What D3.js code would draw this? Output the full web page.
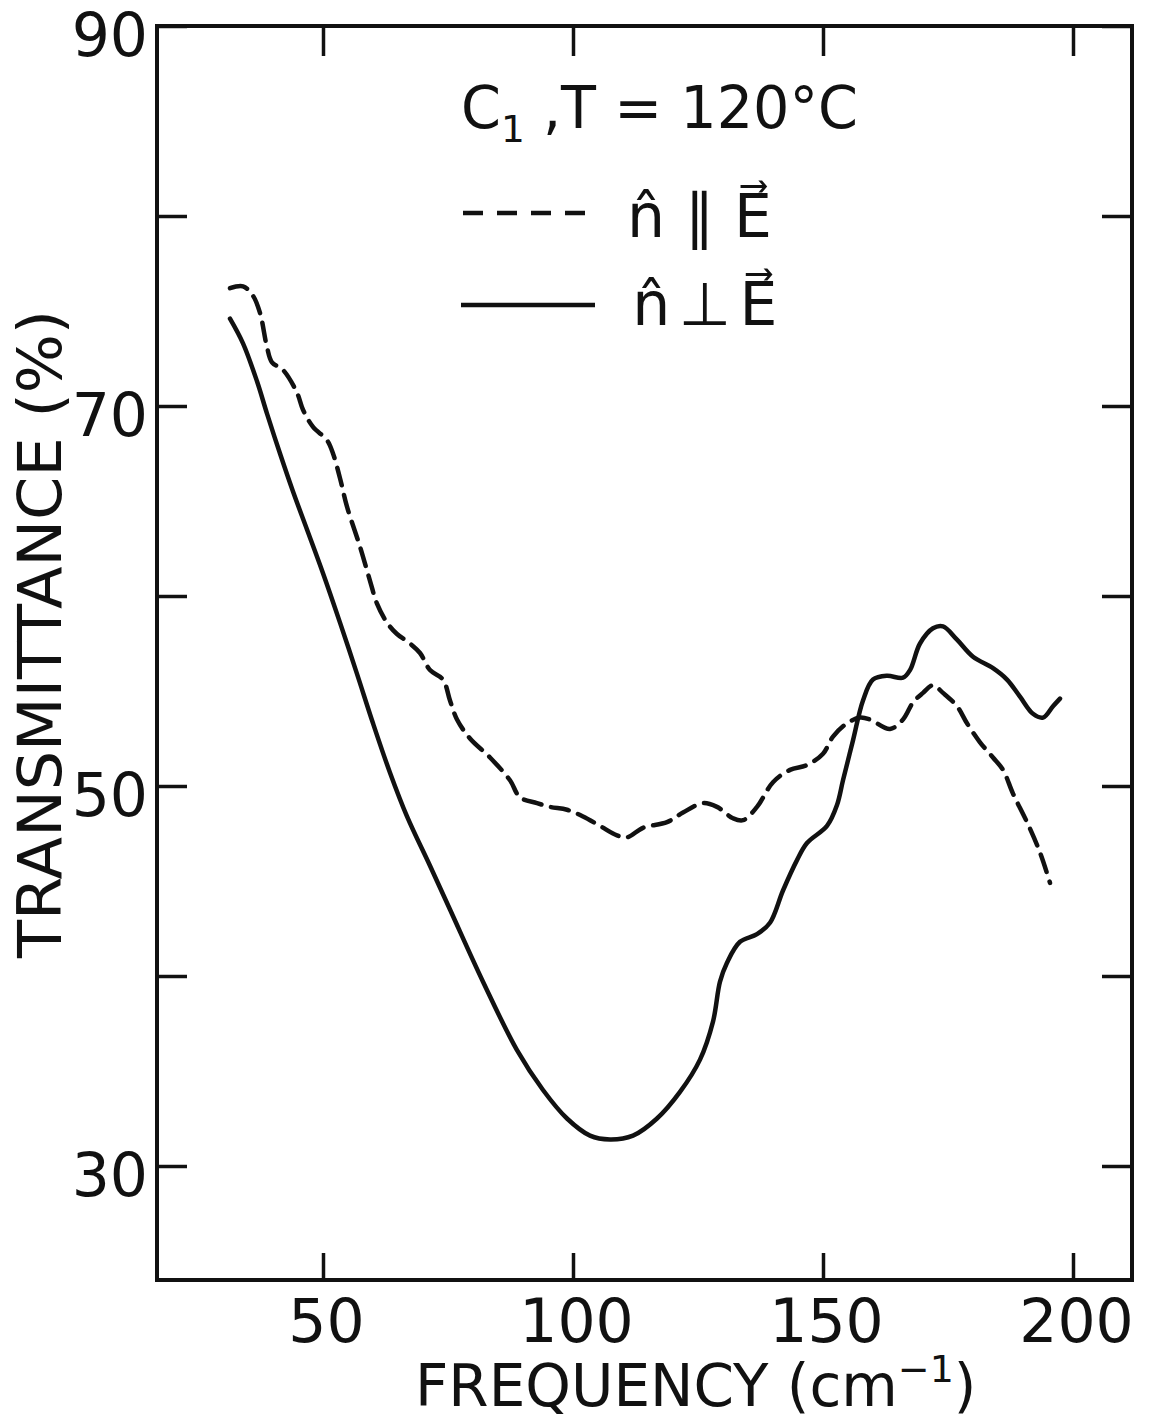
<!DOCTYPE html>
<html>
<head>
<meta charset="utf-8">
<script src="https://cdn.jsdelivr.net/npm/d3@7"></script>
<style>
  html, body { margin: 0; padding: 0; background: #fff; }
  svg text { font-family: "DejaVu Sans", sans-serif; fill: #111; }
</style>
</head>
<body>
<div id="chart"></div>
<script>
// n parallel E (dashed)
const freqPar = [31.4, 34.0, 36.0, 37.4, 38.8, 39.8, 42.0, 44.8, 46.0, 48.0, 50.8, 52.0, 53.4, 54.8, 57.4,
  59.4, 60.8, 62.8, 64.8, 67.4, 69.4, 71.4, 74.0, 75.4, 76.8, 79.4, 83.4, 87.4, 89.4, 92.8, 95.4, 98.8,
  102.0, 105.4, 108.8, 110.8, 114.0, 118.8, 122.0, 126.0, 128.8, 132.0, 134.0, 136.8, 140.0, 143.4,
  146.8, 150.0, 152.0, 154.8, 157.4, 159.4, 163.4, 166.0, 168.0, 170.0, 172.0, 174.0, 176.8, 178.8,
  181.4, 184.0, 186.0, 188.0, 190.8, 193.4, 195.4];
const transPar = [76.2, 76.3, 75.8, 74.9, 73.1, 72.3, 71.9, 70.7, 69.8, 68.9, 68.2, 67.5, 66.2, 64.7, 62.6,
  60.8, 59.6, 58.6, 58.0, 57.5, 57.0, 56.1, 55.6, 54.5, 53.5, 52.5, 51.5, 50.3, 49.4, 49.1, 48.9, 48.75,
  48.4, 47.9, 47.4, 47.3, 47.8, 48.1, 48.6, 49.1, 48.9, 48.3, 48.2, 48.9, 50.2, 50.85,
  51.1, 51.7, 52.6, 53.3, 53.6, 53.5, 53.0, 53.5, 54.4, 54.9, 55.3, 54.9, 54.2, 53.3,
  52.3, 51.5, 50.85, 49.6, 48.1, 46.5, 44.9];

// n perpendicular E (solid)
const freqPerp = [31.4, 34.0, 36.8, 38.8, 41.4, 44.0, 46.8, 50.0, 53.4, 56.8, 60.0, 63.4, 66.8, 71.4, 75.4,
  82.0, 88.8, 94.0, 98.8, 103.4, 107.4, 112.0, 116.8, 121.4, 125.4, 128.0, 129.4, 130.8, 133.4, 136.8,
  139.4, 142.0, 144.8, 146.8, 150.8, 152.8, 154.0, 156.0, 158.0, 160.0, 162.8, 166.0, 167.4, 169.4,
  172.0, 174.0, 176.8, 180.0, 184.0, 186.8, 189.4, 192.0, 194.0, 196.0, 197.4];
const transPerp = [74.6, 73.3, 71.3, 69.6, 67.5, 65.5, 63.5, 61.2, 58.6, 55.9, 53.3, 50.7, 48.4, 45.8, 43.5,
  39.7, 36.1, 34.0, 32.5, 31.6, 31.4, 31.6, 32.5, 33.9, 35.6, 37.6, 39.7, 40.7, 41.8, 42.2,
  42.8, 44.5, 46.1, 47.0, 47.9, 49.0, 50.3, 52.4, 54.5, 55.6, 55.8, 55.7, 56.1, 57.5,
  58.3, 58.4, 57.7, 56.8, 56.2, 55.6, 54.7, 53.8, 53.6, 54.2, 54.6];

const xTicks = [50, 100, 150, 200];
const yTicks = [30, 40, 50, 60, 70, 80, 90];
const yLabels = [30, 50, 70, 90];

const width = 1150, height = 1422;
const plotLeft = 157, plotRight = 1132, plotTop = 26, plotBottom = 1280;

const svg = d3.select('#chart').append('svg')
  .attr('width', width)
  .attr('height', height);

const x = d3.scaleLinear().domain([16.8, 211.8]).range([plotLeft, plotRight]);
const y = d3.scaleLinear().domain([24, 90]).range([plotBottom, plotTop]);

// axes: inward ticks on all four sides
const tickStyle = (g) => {
  g.select('.domain').remove();
  g.selectAll('.tick line').attr('stroke', '#111').attr('stroke-width', 3.5);
};

svg.append('g')
  .attr('transform', `translate(${plotLeft},0)`)
  .call(d3.axisLeft(y).tickValues(yTicks).tickSizeInner(-30).tickSizeOuter(0).tickPadding(10)
    .tickFormat(d => yLabels.includes(d) ? d : ''))
  .call(tickStyle)
  .call(g => g.selectAll('.tick text')
    .attr('font-size', 60).attr('dy', '0.36em').attr('x', -9).attr('y', 8)
    .style('font-family', '"DejaVu Sans", sans-serif').attr('fill', '#111'));

svg.append('g')
  .attr('transform', `translate(${plotRight},0)`)
  .call(d3.axisRight(y).tickValues(yTicks).tickSizeInner(-30).tickSizeOuter(0).tickFormat(''))
  .call(tickStyle);

svg.append('g')
  .attr('transform', `translate(0,${plotBottom})`)
  .call(d3.axisBottom(x).tickValues(xTicks).tickSizeInner(-27).tickSizeOuter(0).tickPadding(18))
  .call(tickStyle)
  .call(g => g.selectAll('.tick text')
    .attr('font-size', 60).attr('dy', '0.71em').attr('y', 19).attr('x', 3)
    .style('font-family', '"DejaVu Sans", sans-serif').attr('fill', '#111'));

svg.append('g')
  .attr('transform', `translate(0,${plotTop})`)
  .call(d3.axisTop(x).tickValues(xTicks).tickSizeInner(-30).tickSizeOuter(0).tickFormat(''))
  .call(tickStyle);

// frame
svg.append('rect')
  .attr('x', plotLeft).attr('y', plotTop)
  .attr('width', plotRight - plotLeft).attr('height', plotBottom - plotTop)
  .attr('fill', 'none').attr('stroke', '#111').attr('stroke-width', 4);

// curves
const line = d3.line()
  .x(d => x(d[0]))
  .y(d => y(d[1]))
  .curve(d3.curveCatmullRom.alpha(0.5));

svg.append('path')
  .datum(d3.zip(freqPar, transPar))
  .attr('d', line)
  .attr('fill', 'none')
  .attr('stroke', '#111')
  .attr('stroke-width', 4.5)
  .attr('stroke-linecap', 'round')
  .attr('stroke-dasharray', '18,10');

svg.append('path')
  .datum(d3.zip(freqPerp, transPerp))
  .attr('d', line)
  .attr('fill', 'none')
  .attr('stroke', '#111')
  .attr('stroke-width', 4.5)
  .attr('stroke-linecap', 'round');

// axis titles
svg.append('text')
  .attr('transform', 'translate(61,634) rotate(-90)')
  .attr('text-anchor', 'middle')
  .attr('font-size', 60)
  .attr('textLength', 648)
  .attr('lengthAdjust', 'spacingAndGlyphs')
  .text('TRANSMITTANCE (%)');

const xt = svg.append('text')
  .attr('x', 415).attr('y', 1406)
  .attr('font-size', 58);
xt.append('tspan').text('FREQUENCY (cm');
xt.append('tspan').attr('font-size', 38).attr('dy', -24).text('−1');
xt.append('tspan').attr('dy', 24).text(')');

// legend
const title = svg.append('text')
  .attr('x', 461).attr('y', 128)
  .attr('font-size', 58)
  .attr('textLength', 397)
  .attr('lengthAdjust', 'spacingAndGlyphs');
title.append('tspan').text('C');
title.append('tspan').attr('font-size', 38).attr('dy', 14).text('1');
title.append('tspan').attr('dy', -14).text(' ,T = 120°C');

svg.append('line')
  .attr('x1', 463).attr('x2', 593).attr('y1', 213).attr('y2', 213)
  .attr('stroke', '#111').attr('stroke-width', 4.5)
  .attr('stroke-dasharray', '20,14');

svg.append('line')
  .attr('x1', 461).attr('x2', 595).attr('y1', 305).attr('y2', 305)
  .attr('stroke', '#111').attr('stroke-width', 4.5);

const legendLabels = [
  { y: 237, label: 'n\u0302 \u2225 E\u20D7' },
  { y: 325, label: 'n\u0302 \u22A5 E\u20D7' }
];

legendLabels.forEach(r => {
  svg.append('text')
    .attr('x', 627).attr('y', r.y)
    .attr('font-size', 60)
    .attr('textLength', 145)
    .attr('lengthAdjust', 'spacing')
    .text(r.label);
});
</script>
</body>
</html>
